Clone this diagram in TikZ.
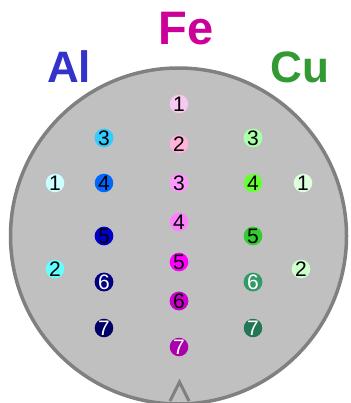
\documentclass[tikz,border=0pt]{standalone}
\usepackage{fontspec}
\setmainfont{Liberation Sans}
\definecolor{waferfill}{HTML}{C0C0C0}
\definecolor{waferedge}{HTML}{808080}
\definecolor{alblue}{HTML}{3333CC}
\definecolor{femag}{HTML}{CC0099}
\definecolor{cugreen}{HTML}{339933}
% point colours
\definecolor{alone}{HTML}{CCFFFF}
\definecolor{altwo}{HTML}{66FFFF}
\definecolor{althree}{HTML}{33CCFF}
\definecolor{alfour}{HTML}{0066FF}
\definecolor{alfive}{HTML}{0000CC}
\definecolor{alsix}{HTML}{000080}
\definecolor{alseven}{HTML}{000066}
\definecolor{feone}{HTML}{F8C8F0}
\definecolor{fetwo}{HTML}{FFB3D9}
\definecolor{fethree}{HTML}{FF99FF}
\definecolor{fefour}{HTML}{FF80FF}
\definecolor{fefive}{HTML}{FF00FF}
\definecolor{fesix}{HTML}{CC00CC}
\definecolor{feseven}{HTML}{AA00AA}
\definecolor{cuone}{HTML}{DDFFDD}
\definecolor{cutwo}{HTML}{CCFFCC}
\definecolor{cuthree}{HTML}{AAFFAA}
\definecolor{cufour}{HTML}{66FF33}
\definecolor{cufive}{HTML}{33CC33}
\definecolor{cusix}{HTML}{339966}
\definecolor{cuseven}{HTML}{227755}

\begin{document}
\begin{tikzpicture}[
        x=1pt, y=-1pt,
        dot/.style={circle, fill=#1, minimum size=18pt, inner sep=0pt, font=\fontsize{21}{21}\selectfont},
        wdot/.style={dot=#1, text=white},
        element/.style={font=\fontsize{44}{44}\selectfont\bfseries, inner sep=0pt}
    ]
        \useasboundingbox (0,0) rectangle (350,403);

        % wafer with notch
        \draw[line width=3.5pt, draw=waferedge, fill=waferfill] (178.5,236) circle (168);
        \draw[line width=3pt, draw=waferedge, line join=miter] (170,401) -- (179.5,382) -- (189,401);

        % element labels
        \node[element, text=alblue] (al) at (69,67) {Al};
        \node[element, text=femag, font=\fontsize{47}{47}\selectfont\bfseries] (fe) at (186,29) {Fe};
        \node[element, text=cugreen] (cu) at (300,67) {Cu};

        % Al points
        \node[dot=alone] (al1) at (55,183) {1};
        \node[dot=altwo] (al2) at (55,269) {2};
        \node[dot=althree] (al3) at (104,138) {3};
        \node[dot=alfour] (al4) at (104,183) {4};
        \node[dot=alfive] (al5) at (104,236) {5};
        \node[wdot=alsix] (al6) at (104,282) {6};
        \node[wdot=alseven] (al7) at (104,328) {7};

        % Fe points
        \node[dot=feone] (fe1) at (179,104) {1};
        \node[dot=fetwo] (fe2) at (179,144) {2};
        \node[dot=fethree] (fe3) at (179,183) {3};
        \node[dot=fefour] (fe4) at (179,222) {4};
        \node[dot=fefive] (fe5) at (179,262) {5};
        \node[dot=fesix] (fe6) at (179,301) {6};
        \node[wdot=feseven] (fe7) at (179,347) {7};

        % Cu points
        \node[dot=cuone] (cu1) at (303,183) {1};
        \node[dot=cutwo] (cu2) at (301,269) {2};
        \node[dot=cuthree] (cu3) at (253,138) {3};
        \node[dot=cufour] (cu4) at (253,183) {4};
        \node[dot=cufive] (cu5) at (253,236) {5};
        \node[wdot=cusix] (cu6) at (253,282) {6};
        \node[wdot=cuseven] (cu7) at (253,328) {7};
    \end{tikzpicture}
\end{document}
